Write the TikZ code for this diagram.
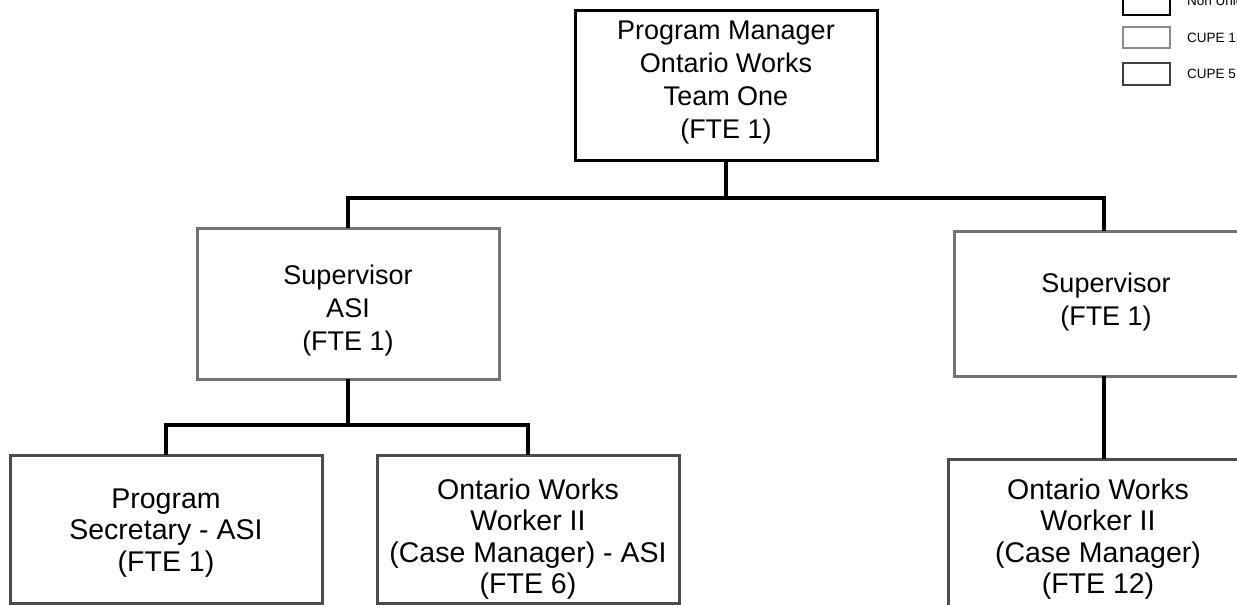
\documentclass[tikz,border=0pt]{standalone}
\usepackage{fontspec}
\setmainfont{Liberation Sans}
\tikzset{
  boxbase/.style={draw, fill=white, inner sep=0pt, line width=3pt},
  blackbox/.style={boxbase, draw=black},
  lightbox/.style={boxbase, draw=black!55},
  darkbox/.style={boxbase, draw=black!70},
  bigtext/.style={align=center, inner sep=0pt, font=\fontsize{27}{33}\selectfont},
  smalltext/.style={align=center, inner sep=0pt, font=\fontsize{28.5}{31.5}\selectfont},
  legtext/.style={anchor=west, inner sep=0pt, font=\fontsize{13.5}{15}\selectfont},
  conn/.style={line width=3.5pt, line cap=rect}
}
\begin{document}
\begin{tikzpicture}[x=1pt,y=-1pt]
\useasboundingbox (0,0) rectangle (1237,605);
\clip (0,0) rectangle (1237,605);
\fill[white] (0,0) rectangle (1237,605);

% bus coordinates
\coordinate (bus1) at (726,198);
\coordinate (bus2) at (348,425);

% boxes
\node[blackbox, minimum width=302pt, minimum height=150pt] (pm) at (726,85) {};
\node[lightbox, minimum width=302pt, minimum height=151pt] (supA) at (348,303.5) {};
\node[lightbox, minimum width=300pt, minimum height=145pt] (supB) at (1104,303.5) {};
\node[darkbox, minimum width=312pt, minimum height=148pt] (ps) at (166,529) {};
\node[darkbox, minimum width=302pt, minimum height=148pt] (owa) at (528,529) {};
\node[darkbox, minimum width=304pt, minimum height=152pt] (owb) at (1100,535) {};

% connectors
\draw[conn] (pm.south) -- (bus1);
\draw[conn] (supA.north) -- (supA.north |- bus1) -- (supB.north |- bus1) -- (supB.north);
\draw[conn] (supA.south) -- (bus2);
\draw[conn] (ps.north) -- (ps.north |- bus2) -- (owa.north |- bus2) -- (owa.north);
\draw[conn] (supB.south) -- (supB.south |- owb.north);

% texts
\node[bigtext] (pmt) at (726,83) {Program Manager\\Ontario Works\\Team One\\(FTE 1)};
\node[bigtext] (supAt) at (348,311) {Supervisor\\ASI\\(FTE 1)};
\node[bigtext] (supBt) at (1106,302.5) {Supervisor\\(FTE 1)};
\node[smalltext] (pst) at (166,533) {Program\\Secretary - ASI\\(FTE 1)};
\node[smalltext] (owat) at (528,539) {Ontario Works\\Worker II\\(Case Manager) - ASI\\(FTE 6)};
\node[smalltext] (owbt) at (1098,539) {Ontario Works\\Worker II\\(Case Manager)\\(FTE 12)};

% legend
\node[boxbase, line width=2.5pt, draw=black, minimum width=47pt, minimum height=30pt] (lg1) at (1146.5,0) {};
\node[boxbase, line width=2.5pt, draw=black!45, minimum width=47pt, minimum height=21pt] (lg2) at (1146.5,37.5) {};
\node[boxbase, line width=2.5pt, draw=black!75, minimum width=47pt, minimum height=22pt] (lg3) at (1146.5,74) {};
\node[legtext] (lg1t) at (1187,1) {Non Union};
\node[legtext] (lg2t) at (1187,38) {CUPE 1};
\node[legtext] (lg3t) at (1187,74) {CUPE 5};
\end{tikzpicture}
\end{document}
